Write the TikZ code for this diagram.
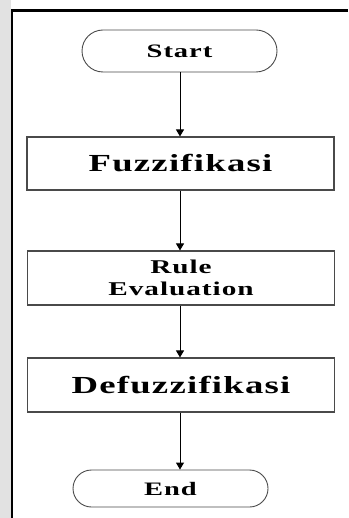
\documentclass[tikz,border=0pt]{standalone}
\usepackage{fontspec}
\usetikzlibrary{shapes.misc,arrows.meta,positioning}
\newfontfamily\chartfont{Liberation Serif}[FakeStretch=1.5,LetterSpace=5]
\definecolor{boxline}{HTML}{4A4A4A}
\definecolor{margin}{HTML}{E2E2E2}
\begin{document}
\begin{tikzpicture}[x=1pt,y=1pt,
  terminal/.style={draw=boxline,line width=0.9pt,rounded rectangle,
    minimum width=195pt,inner sep=0pt,font=\chartfont\bfseries\fontsize{19}{22}\selectfont},
  process/.style={draw=boxline,line width=1.1pt,rectangle,minimum width=307pt,
    minimum height=54pt,inner sep=0pt,align=center},
  bigtext/.style={font=\chartfont\bfseries\fontsize{24.5}{28}\selectfont},
  smalltext/.style={font=\chartfont\bfseries\fontsize{19.5}{22}\selectfont},
  flow/.style={draw=black,line width=0.9pt,-{Triangle[length=7pt,width=8pt]}}]
  \useasboundingbox (0,0) rectangle (348,-518);
  % shaded margin and page frame
  \fill[margin] (0,0) rectangle (11,-518);
  \draw[line width=2.4pt] (12,-518) -- (12,-10.5) -- (348,-10.5);

  \node[terminal,minimum height=42pt] (start) at (179.5,-51) {Start};
  \node[process,bigtext,minimum height=53pt] (fuzz) at (180.5,-163.5) {Fuzzifikasi};
  \node[process,smalltext] (rule) at (181,-278) {Rule\\Evaluation};
  \node[process,bigtext] (defuzz) at (181,-385) {Defuzzifikasi};
  \node[terminal,minimum height=37pt] (end) at (170.5,-488.5) {End};

  \draw[flow] (start.south -| 180,0) -- (fuzz.north -| 180,0);
  \draw[flow] (fuzz.south -| 180,0) -- (rule.north -| 180,0);
  \draw[flow] (rule.south -| 180,0) -- (defuzz.north -| 180,0);
  \draw[flow] (defuzz.south -| 180,0) -- (end.north -| 180,0);
\end{tikzpicture}
\end{document}
